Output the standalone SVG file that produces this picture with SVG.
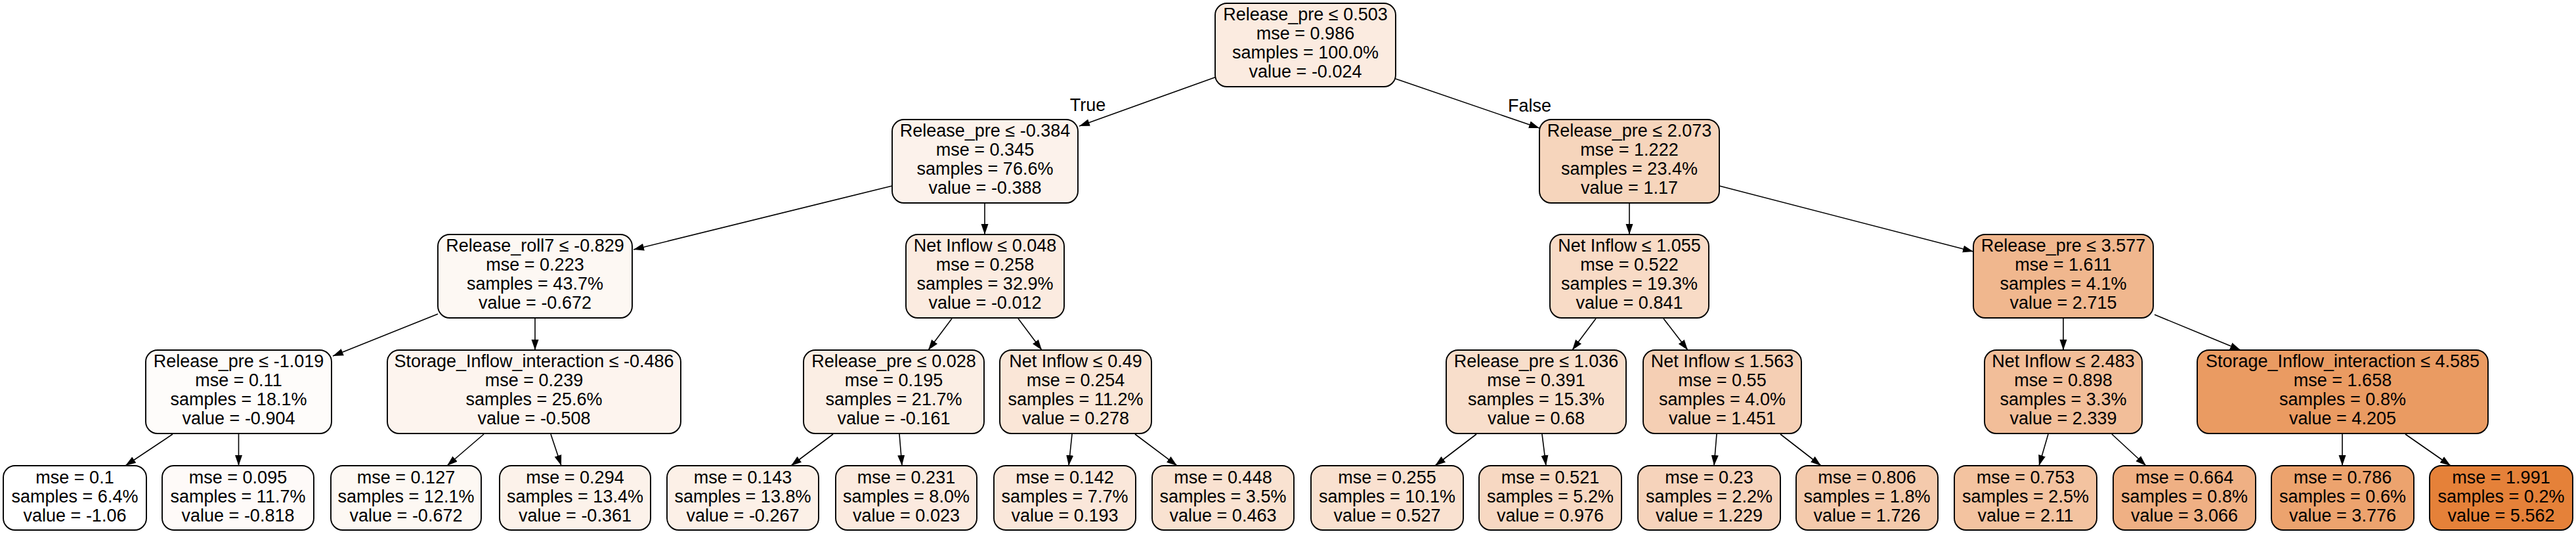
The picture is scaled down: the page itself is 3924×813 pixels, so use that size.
<svg xmlns="http://www.w3.org/2000/svg" width="3924" height="813" viewBox="0 0 3924 813">
<style>
.node rect{stroke:#000;stroke-width:1.9}
.node text,.lbl{font-family:"Liberation Sans",Arial,Helvetica,sans-serif;font-size:27px;fill:#000;text-anchor:middle}
.edges line{stroke:#000;stroke-width:1.6;marker-end:url(#arr)}
</style>
<defs>
<marker id="arr" markerUnits="userSpaceOnUse" markerWidth="16" markerHeight="12" refX="16" refY="6" orient="auto">
<path d="M0,0.5 L16,6 L0,11.5 z" fill="#000"/>
</marker>
</defs>
<rect width="3924" height="813" fill="#fff"/>
<g id="edges" class="edges">
<line x1="1853" y1="117" x2="1644" y2="192"/>
<line x1="2126" y1="120" x2="2345" y2="195"/>
<line x1="1359" y1="283" x2="965" y2="380"/>
<line x1="1500" y1="309" x2="1500" y2="357"/>
<line x1="2482" y1="309" x2="2482" y2="357"/>
<line x1="2619" y1="283" x2="3006" y2="383"/>
<line x1="667" y1="478" x2="507" y2="542"/>
<line x1="815" y1="485" x2="815" y2="533"/>
<line x1="1450" y1="485" x2="1414" y2="533"/>
<line x1="1551" y1="485" x2="1587" y2="533"/>
<line x1="2431" y1="485" x2="2395" y2="533"/>
<line x1="2534" y1="485" x2="2571" y2="533"/>
<line x1="3143" y1="485" x2="3143" y2="533"/>
<line x1="3282" y1="479" x2="3413" y2="533"/>
<line x1="263" y1="661" x2="191" y2="709"/>
<line x1="363.5" y1="661" x2="363.5" y2="709"/>
<line x1="737" y1="661" x2="681" y2="709"/>
<line x1="839" y1="661" x2="855" y2="709"/>
<line x1="1269" y1="661" x2="1205" y2="709"/>
<line x1="1370" y1="661" x2="1374" y2="709"/>
<line x1="1633" y1="661" x2="1628" y2="709"/>
<line x1="1729" y1="661" x2="1793" y2="709"/>
<line x1="2249" y1="661" x2="2186" y2="709"/>
<line x1="2349" y1="661" x2="2355" y2="709"/>
<line x1="2615" y1="661" x2="2611" y2="709"/>
<line x1="2712" y1="661" x2="2774" y2="709"/>
<line x1="3120" y1="661" x2="3106" y2="709"/>
<line x1="3217" y1="661" x2="3269" y2="709"/>
<line x1="3568" y1="661" x2="3568" y2="709"/>
<line x1="3664" y1="661" x2="3733" y2="709"/>
<text class="lbl" x="1657" y="169">True</text>
<text class="lbl" x="2330" y="170">False</text>
</g>

<g id="n0" class="node"><rect x="1851" y="5" width="275" height="127" rx="18" fill="#fbebe0"/>
<text x="1988.5"><tspan x="1988.5" y="31">Release_pre ≤ 0.503</tspan><tspan x="1988.5" y="60">mse = 0.986</tspan><tspan x="1988.5" y="89">samples = 100.0%</tspan><tspan x="1988.5" y="118">value = -0.024</tspan></text></g>

<g id="n1" class="node"><rect x="1359" y="182" width="283" height="127" rx="18" fill="#fcf2eb"/>
<text><tspan x="1500.5" y="208">Release_pre ≤ -0.384</tspan><tspan x="1500.5" y="237">mse = 0.345</tspan><tspan x="1500.5" y="266">samples = 76.6%</tspan><tspan x="1500.5" y="295">value = -0.388</tspan></text></g>

<g id="n2" class="node"><rect x="2345" y="182" width="274" height="127" rx="18" fill="#f6d5bc"/>
<text><tspan x="2482" y="208">Release_pre ≤ 2.073</tspan><tspan x="2482" y="237">mse = 1.222</tspan><tspan x="2482" y="266">samples = 23.4%</tspan><tspan x="2482" y="295">value = 1.17</tspan></text></g>

<g id="n3" class="node"><rect x="667" y="357" width="296" height="127" rx="18" fill="#fdf8f3"/>
<text><tspan x="815" y="383">Release_roll7 ≤ -0.829</tspan><tspan x="815" y="412">mse = 0.223</tspan><tspan x="815" y="441">samples = 43.7%</tspan><tspan x="815" y="470">value = -0.672</tspan></text></g>

<g id="n4" class="node"><rect x="1380" y="357" width="241" height="127" rx="18" fill="#fbebe0"/>
<text><tspan x="1500.5" y="383">Net Inflow ≤ 0.048</tspan><tspan x="1500.5" y="412">mse = 0.258</tspan><tspan x="1500.5" y="441">samples = 32.9%</tspan><tspan x="1500.5" y="470">value = -0.012</tspan></text></g>

<g id="n5" class="node"><rect x="2361" y="357" width="242" height="127" rx="18" fill="#f8dbc6"/>
<text><tspan x="2482" y="383">Net Inflow ≤ 1.055</tspan><tspan x="2482" y="412">mse = 0.522</tspan><tspan x="2482" y="441">samples = 19.3%</tspan><tspan x="2482" y="470">value = 0.841</tspan></text></g>

<g id="n6" class="node"><rect x="3006" y="357" width="274" height="127" rx="18" fill="#f0b78e"/>
<text><tspan x="3143" y="383">Release_pre ≤ 3.577</tspan><tspan x="3143" y="412">mse = 1.611</tspan><tspan x="3143" y="441">samples = 4.1%</tspan><tspan x="3143" y="470">value = 2.715</tspan></text></g>

<g id="n7" class="node"><rect x="222" y="533" width="283" height="127" rx="18" fill="#fefcfa"/>
<text><tspan x="363.5" y="559">Release_pre ≤ -1.019</tspan><tspan x="363.5" y="588">mse = 0.11</tspan><tspan x="363.5" y="617">samples = 18.1%</tspan><tspan x="363.5" y="646">value = -0.904</tspan></text></g>

<g id="n8" class="node"><rect x="590" y="533" width="447" height="127" rx="18" fill="#fdf4ee"/>
<text><tspan x="813.5" y="559">Storage_Inflow_interaction ≤ -0.486</tspan><tspan x="813.5" y="588">mse = 0.239</tspan><tspan x="813.5" y="617">samples = 25.6%</tspan><tspan x="813.5" y="646">value = -0.508</tspan></text></g>

<g id="n9" class="node"><rect x="1224" y="533" width="275" height="127" rx="18" fill="#fbeee4"/>
<text><tspan x="1361.5" y="559">Release_pre ≤ 0.028</tspan><tspan x="1361.5" y="588">mse = 0.195</tspan><tspan x="1361.5" y="617">samples = 21.7%</tspan><tspan x="1361.5" y="646">value = -0.161</tspan></text></g>

<g id="n10" class="node"><rect x="1523" y="533" width="231" height="127" rx="18" fill="#fae6d7"/>
<text><tspan x="1638.5" y="559">Net Inflow ≤ 0.49</tspan><tspan x="1638.5" y="588">mse = 0.254</tspan><tspan x="1638.5" y="617">samples = 11.2%</tspan><tspan x="1638.5" y="646">value = 0.278</tspan></text></g>

<g id="n11" class="node"><rect x="2203" y="533" width="274" height="127" rx="18" fill="#f8decb"/>
<text><tspan x="2340" y="559">Release_pre ≤ 1.036</tspan><tspan x="2340" y="588">mse = 0.391</tspan><tspan x="2340" y="617">samples = 15.3%</tspan><tspan x="2340" y="646">value = 0.68</tspan></text></g>

<g id="n12" class="node"><rect x="2503" y="533" width="241" height="127" rx="18" fill="#f5cfb4"/>
<text><tspan x="2623.5" y="559">Net Inflow ≤ 1.563</tspan><tspan x="2623.5" y="588">mse = 0.55</tspan><tspan x="2623.5" y="617">samples = 4.0%</tspan><tspan x="2623.5" y="646">value = 1.451</tspan></text></g>

<g id="n13" class="node"><rect x="3023" y="533" width="240" height="127" rx="18" fill="#f2be99"/>
<text><tspan x="3143" y="559">Net Inflow ≤ 2.483</tspan><tspan x="3143" y="588">mse = 0.898</tspan><tspan x="3143" y="617">samples = 3.3%</tspan><tspan x="3143" y="646">value = 2.339</tspan></text></g>

<g id="n14" class="node"><rect x="3347" y="533" width="443" height="127" rx="18" fill="#ea9b62"/>
<text><tspan x="3568.5" y="559">Storage_Inflow_interaction ≤ 4.585</tspan><tspan x="3568.5" y="588">mse = 1.658</tspan><tspan x="3568.5" y="617">samples = 0.8%</tspan><tspan x="3568.5" y="646">value = 4.205</tspan></text></g>

<g id="n15" class="node"><rect x="5" y="709" width="218" height="98" rx="18" fill="#ffffff"/>
<text><tspan x="114" y="736">mse = 0.1</tspan><tspan x="114" y="765">samples = 6.4%</tspan><tspan x="114" y="794">value = -1.06</tspan></text></g>

<g id="n16" class="node"><rect x="247" y="709" width="231" height="98" rx="18" fill="#fefaf8"/>
<text><tspan x="362.5" y="736">mse = 0.095</tspan><tspan x="362.5" y="765">samples = 11.7%</tspan><tspan x="362.5" y="794">value = -0.818</tspan></text></g>

<g id="n17" class="node"><rect x="504" y="709" width="229" height="98" rx="18" fill="#fdf8f3"/>
<text><tspan x="618.5" y="736">mse = 0.127</tspan><tspan x="618.5" y="765">samples = 12.1%</tspan><tspan x="618.5" y="794">value = -0.672</tspan></text></g>

<g id="n18" class="node"><rect x="761" y="709" width="230" height="98" rx="18" fill="#fcf2ea"/>
<text><tspan x="876" y="736">mse = 0.294</tspan><tspan x="876" y="765">samples = 13.4%</tspan><tspan x="876" y="794">value = -0.361</tspan></text></g>

<g id="n19" class="node"><rect x="1016" y="709" width="231" height="98" rx="18" fill="#fcf0e7"/>
<text><tspan x="1131.5" y="736">mse = 0.143</tspan><tspan x="1131.5" y="765">samples = 13.8%</tspan><tspan x="1131.5" y="794">value = -0.267</tspan></text></g>

<g id="n20" class="node"><rect x="1273" y="709" width="215" height="98" rx="18" fill="#fbeadf"/>
<text><tspan x="1380.5" y="736">mse = 0.231</tspan><tspan x="1380.5" y="765">samples = 8.0%</tspan><tspan x="1380.5" y="794">value = 0.023</tspan></text></g>

<g id="n21" class="node"><rect x="1514" y="709" width="216" height="98" rx="18" fill="#fae7da"/>
<text><tspan x="1622" y="736">mse = 0.142</tspan><tspan x="1622" y="765">samples = 7.7%</tspan><tspan x="1622" y="794">value = 0.193</tspan></text></g>

<g id="n22" class="node"><rect x="1755" y="709" width="216" height="98" rx="18" fill="#f9e2d1"/>
<text><tspan x="1863" y="736">mse = 0.448</tspan><tspan x="1863" y="765">samples = 3.5%</tspan><tspan x="1863" y="794">value = 0.463</tspan></text></g>

<g id="n23" class="node"><rect x="1997" y="709" width="232" height="98" rx="18" fill="#f9e1d0"/>
<text><tspan x="2113" y="736">mse = 0.255</tspan><tspan x="2113" y="765">samples = 10.1%</tspan><tspan x="2113" y="794">value = 0.527</tspan></text></g>

<g id="n24" class="node"><rect x="2253" y="709" width="217" height="98" rx="18" fill="#f7d8c2"/>
<text><tspan x="2361.5" y="736">mse = 0.521</tspan><tspan x="2361.5" y="765">samples = 5.2%</tspan><tspan x="2361.5" y="794">value = 0.976</tspan></text></g>

<g id="n25" class="node"><rect x="2495" y="709" width="217" height="98" rx="18" fill="#f6d3bb"/>
<text><tspan x="2603.5" y="736">mse = 0.23</tspan><tspan x="2603.5" y="765">samples = 2.2%</tspan><tspan x="2603.5" y="794">value = 1.229</tspan></text></g>

<g id="n26" class="node"><rect x="2736" y="709" width="216" height="98" rx="18" fill="#f4caac"/>
<text><tspan x="2844" y="736">mse = 0.806</tspan><tspan x="2844" y="765">samples = 1.8%</tspan><tspan x="2844" y="794">value = 1.726</tspan></text></g>

<g id="n27" class="node"><rect x="2977" y="709" width="217" height="98" rx="18" fill="#f3c3a0"/>
<text><tspan x="3085.5" y="736">mse = 0.753</tspan><tspan x="3085.5" y="765">samples = 2.5%</tspan><tspan x="3085.5" y="794">value = 2.11</tspan></text></g>

<g id="n28" class="node"><rect x="3219" y="709" width="217" height="98" rx="18" fill="#efb084"/>
<text><tspan x="3327.5" y="736">mse = 0.664</tspan><tspan x="3327.5" y="765">samples = 0.8%</tspan><tspan x="3327.5" y="794">value = 3.066</tspan></text></g>

<g id="n29" class="node"><rect x="3460" y="709" width="217" height="98" rx="18" fill="#eca36e"/>
<text><tspan x="3568.5" y="736">mse = 0.786</tspan><tspan x="3568.5" y="765">samples = 0.6%</tspan><tspan x="3568.5" y="794">value = 3.776</tspan></text></g>

<g id="n30" class="node"><rect x="3701" y="709" width="218" height="98" rx="18" fill="#e58139"/>
<text><tspan x="3810" y="736">mse = 1.991</tspan><tspan x="3810" y="765">samples = 0.2%</tspan><tspan x="3810" y="794">value = 5.562</tspan></text></g>
</svg>
